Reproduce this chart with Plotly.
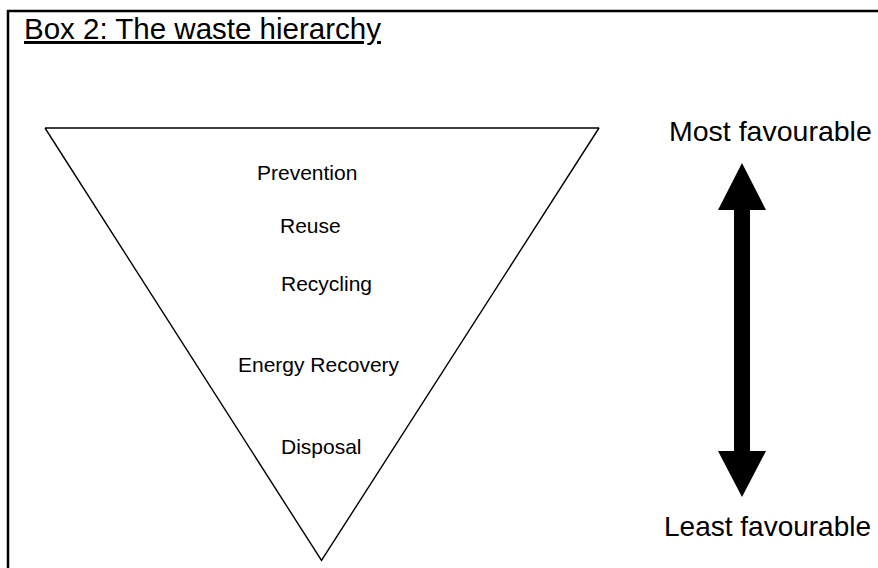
import plotly.graph_objects as go

# ---- data (text content) ----
title_text = "Box 2: The waste hierarchy"
tiers = ["Prevention", "Reuse", "Recycling", "Energy Recovery", "Disposal"]
scale_labels = ["Most favourable", "Least favourable"]

# ---- layout geometry (pixel space, y grows downward) ----
W, H = 878, 568
tier_x = [307, 310, 326, 319, 321]
tier_y = [172, 225, 283, 364, 446]
tri_x = [45, 599, 321.5, 45]
tri_y = [128, 128, 560.5, 128]

FONT = "Liberation Sans, Arial, sans-serif"

fig = go.Figure()

# inverted triangle
fig.add_trace(go.Scatter(x=tri_x, y=tri_y, mode="lines",
                         line=dict(color="black", width=1.4),
                         hoverinfo="skip", showlegend=False))

shapes = []
# outer box (left + top borders visible)
shapes.append(dict(type="line", x0=8, y0=10, x1=8, y1=H,
                   xref="x", yref="y", line=dict(color="black", width=2.5)))
shapes.append(dict(type="line", x0=7, y0=11, x1=W, y1=11,
                   xref="x", yref="y", line=dict(color="black", width=2.5)))
# double-headed arrow
ax = 742
arrow_path = (f"M {ax},163 L {ax+24},210 L {ax+8},210 L {ax+8},451 L {ax+24},451 "
              f"L {ax},497 L {ax-24},451 L {ax-8},451 L {ax-8},210 L {ax-24},210 Z")
shapes.append(dict(type="path", path=arrow_path, xref="x", yref="y",
                   fillcolor="black", line=dict(color="black", width=0)))

annotations = []
annotations.append(dict(x=22, y=28, xref="x", yref="y", text=f"<u>{title_text}</u>",
                        showarrow=False, xanchor="left", yanchor="middle",
                        font=dict(family=FONT, size=29.5, color="black")))
for t, x, y in zip(tiers, tier_x, tier_y):
    annotations.append(dict(x=x, y=y, xref="x", yref="y", text=t, showarrow=False,
                            xanchor="center", yanchor="middle",
                            font=dict(family=FONT, size=21, color="black")))
annotations.append(dict(x=770, y=131, xref="x", yref="y", text=scale_labels[0],
                        showarrow=False, xanchor="center", yanchor="middle",
                        font=dict(family=FONT, size=28.5, color="black")))
annotations.append(dict(x=767.5, y=526, xref="x", yref="y", text=scale_labels[1],
                        showarrow=False, xanchor="center", yanchor="middle",
                        font=dict(family=FONT, size=28, color="black")))

fig.update_layout(
    width=W, height=H, margin=dict(l=0, r=0, t=0, b=0),
    paper_bgcolor="white", plot_bgcolor="white",
    xaxis=dict(range=[0, W], visible=False, fixedrange=True),
    yaxis=dict(range=[H, 0], visible=False, fixedrange=True),
    shapes=shapes, annotations=annotations, showlegend=False,
)

fig.write_html("out.html", config={"displayModeBar": False},
               post_script=("document.body.style.margin='0';"
                            "document.body.style.overflow='hidden';"
                            "document.documentElement.style.overflow='hidden';"))
